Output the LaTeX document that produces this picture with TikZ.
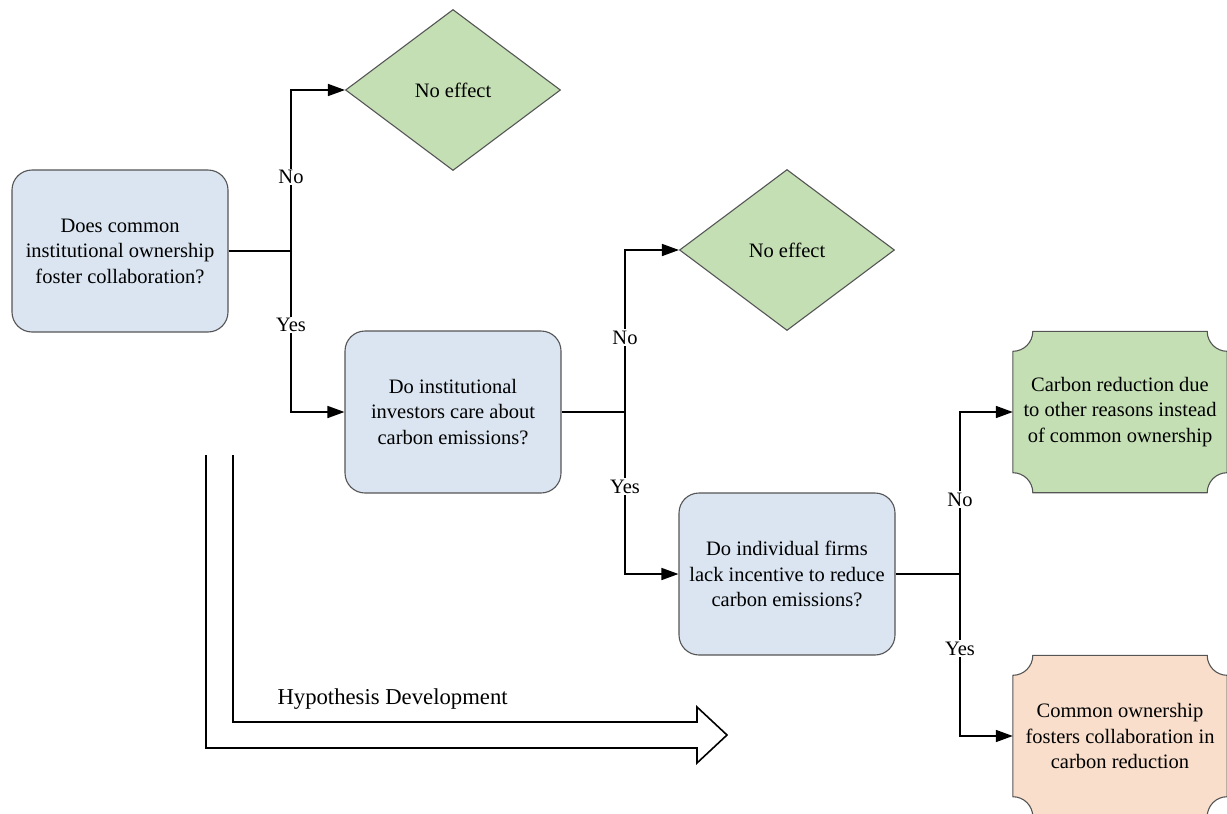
\documentclass[tikz,border=0pt]{standalone}
\usepackage{fontspec}
\setmainfont{LiberationSerif}[Extension=.ttf, UprightFont=*-Regular, BoldFont=*-Bold, ItalicFont=*-Italic, BoldItalicFont=*-BoldItalic]
\usetikzlibrary{shapes.geometric,arrows.meta,calc,backgrounds}
\definecolor{qblue}{HTML}{DAE5F1}
\definecolor{qgreen}{HTML}{C5DFB5}
\definecolor{qpeach}{HTML}{F8DECB}
\definecolor{bordergray}{HTML}{555555}
\newcommand{\plaquepath}[2]{%
  \filldraw[fill=#2, draw=bordergray, line width=1.1pt]
    ($(#1.north west)+(20,0)$) -- ($(#1.north east)+(-20,0)$)
    arc[start angle=180,end angle=270,radius=20pt]
    -- ($(#1.south east)+(0,20)$)
    arc[start angle=90,end angle=180,radius=20pt]
    -- ($(#1.south west)+(20,0)$)
    arc[start angle=0,end angle=90,radius=20pt]
    -- ($(#1.north west)+(0,-20)$)
    arc[start angle=270,end angle=360,radius=20pt] -- cycle;}
\begin{document}
\begin{tikzpicture}[x=1pt,y=1pt,
  every node/.style={font=\rmfamily\fontsize{20.5}{25.5}\selectfont},
  qbox/.style={draw=bordergray, line width=1.1pt, fill=qblue, rounded corners=20pt,
    minimum width=216pt, minimum height=162pt, align=center, inner sep=0pt},
  dia/.style={diamond, draw=bordergray, line width=1.1pt, fill=qgreen,
    minimum width=215pt, minimum height=161pt, inner sep=0pt},
  plq/.style={minimum width=214pt, minimum height=161pt, align=center, inner sep=0pt},
  conn/.style={line width=1.6pt, black},
  arr/.style={conn, -{Triangle[length=17pt,width=12pt]}},
  lbl/.style={fill=white, inner sep=1.5pt},
  bigarrow/.style={line width=1.6pt, black, line join=miter}
]
\useasboundingbox (0,0) rectangle (1227,-814);

% question boxes
\node[qbox] (b1) at (120,-251) {Does common\\institutional ownership\\foster collaboration?};
\node[qbox] (b2) at (453,-412) {Do institutional\\investors care about\\carbon emissions?};
\node[qbox] (b3) at (787,-574) {Do individual firms\\lack incentive to reduce\\carbon emissions?};

% outcomes
\node[dia] (d1) at (453,-90) {No effect};
\node[dia] (d2) at (787,-250) {No effect};
\node[plq] (p1) at (1120,-412) {Carbon reduction due\\to other reasons instead\\of common ownership};
\node[plq] (p2) at (1120,-736) {Common ownership\\fosters collaboration in\\carbon reduction};
\begin{scope}[on background layer]
  \plaquepath{p1}{qgreen}
  \plaquepath{p2}{qpeach}
\end{scope}

% junctions
\coordinate (j1) at (291,-251);
\coordinate (j2) at (625,-412);
\coordinate (j3) at (960,-574);

\draw[conn] (b1.east) -- (j1);
\draw[arr] (j1) |- node[lbl,pos=0.23]{No} (d1.west);
\draw[arr] (j1) |- node[lbl,pos=0.23]{Yes} (b2.west);

\draw[conn] (b2.east) -- (j2);
\draw[arr] (j2) |- node[lbl,pos=0.23]{No} (d2.west);
\draw[arr] (j2) |- node[lbl,pos=0.23]{Yes} (b3.west);

\draw[conn] (b3.east) -- (j3);
\draw[arr] (j3) |- node[lbl,pos=0.23]{No} (p1.west);
\draw[arr] (j3) |- node[lbl,pos=0.23]{Yes} (p2.west);

% hypothesis development arrow
\draw[bigarrow] (206,-455) -- (206,-748) -- (697,-748) -- (697,-763)
  -- (727,-735) -- (697,-707) -- (697,-722) -- (233,-722) -- (233,-455);
\node[anchor=west, font=\rmfamily\fontsize{22.7}{27}\selectfont] (hd) at (274,-699) {Hypothesis Development};
\end{tikzpicture}
\end{document}
